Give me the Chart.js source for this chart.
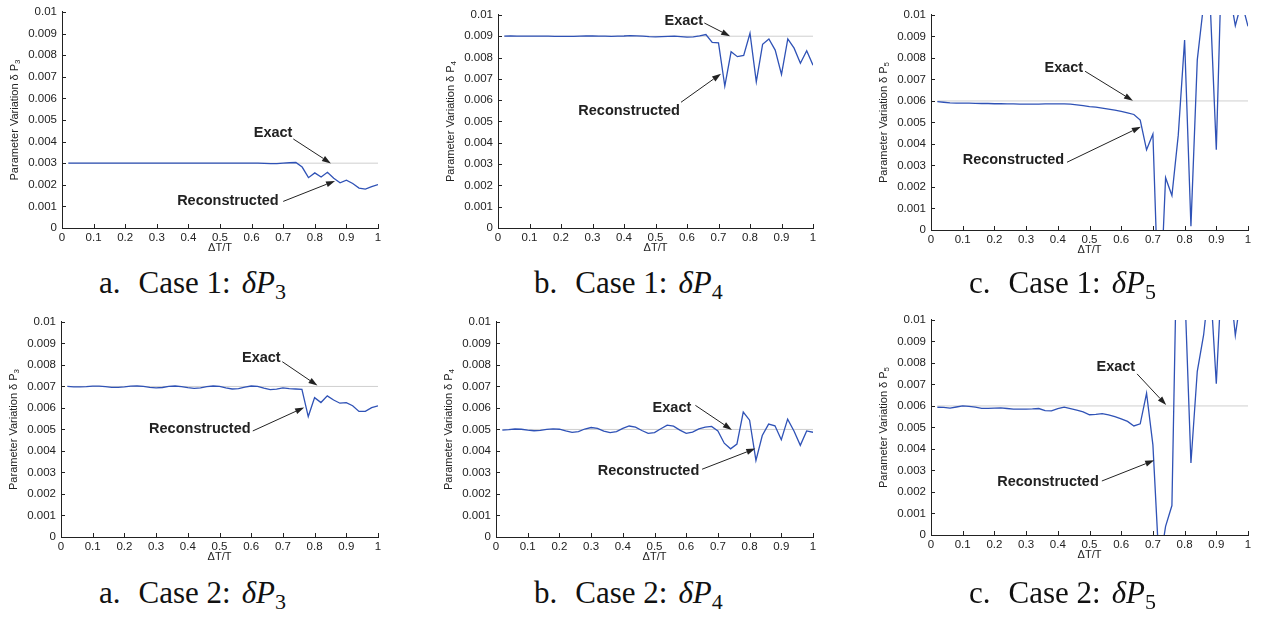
<!DOCTYPE html>
<html>
<head>
<meta charset="utf-8">
<script src="https://cdn.jsdelivr.net/npm/chart.js@4.4.1/dist/chart.umd.min.js"></script>
<style>
  body { margin: 0; background: #fff; width: 1266px; height: 617px; position: relative; overflow: hidden; }
  canvas { position: absolute; }
  .cap { position: absolute; font-family: 'Liberation Serif', 'Times New Roman', serif; font-size: 31px; line-height: 30px; white-space: nowrap; color: #111; }
  .cap i { font-style: italic; }
  .cap sub { font-size: 22px; vertical-align: -6px; line-height: 0; }
</style>
</head>
<body>
<script>
// ΔT/T sample points
const dT = [0.02, 0.04, 0.06, 0.08, 0.10, 0.12, 0.14, 0.16, 0.18, 0.20,
            0.22, 0.24, 0.26, 0.28, 0.30, 0.32, 0.34, 0.36, 0.38, 0.40,
            0.42, 0.44, 0.46, 0.48, 0.50, 0.52, 0.54, 0.56, 0.58, 0.60,
            0.62, 0.64, 0.66, 0.68, 0.70, 0.72, 0.74, 0.76, 0.78, 0.80,
            0.82, 0.84, 0.86, 0.88, 0.90, 0.92, 0.94, 0.96, 0.98, 1.00];
const exactSpan = [0.02, 1];

// reconstructed parameter variations
const case1P3 = [0.00300, 0.00300, 0.00300, 0.00300, 0.00300, 0.00300, 0.00300, 0.00300, 0.00300, 0.00300,
                 0.00300, 0.00300, 0.00300, 0.00300, 0.00300, 0.00300, 0.00300, 0.00300, 0.00300, 0.00300,
                 0.00300, 0.00300, 0.00300, 0.00300, 0.00300, 0.00300, 0.00300, 0.00300, 0.00300, 0.00300,
                 0.00300, 0.00299, 0.00298, 0.00298, 0.00300, 0.00302, 0.00303, 0.00282, 0.00233, 0.00255,
                 0.00236, 0.00258, 0.00230, 0.00209, 0.00221, 0.00206, 0.00185, 0.00180, 0.00191, 0.00201];
const case1P4 = [0.00900, 0.00901, 0.00900, 0.00900, 0.00900, 0.00900, 0.00900, 0.00900, 0.00899, 0.00899,
                 0.00899, 0.00899, 0.00900, 0.00901, 0.00901, 0.00900, 0.00900, 0.00899, 0.00900, 0.00901,
                 0.00903, 0.00902, 0.00900, 0.00898, 0.00897, 0.00898, 0.00899, 0.00900, 0.00898, 0.00896,
                 0.00897, 0.00902, 0.00908, 0.00871, 0.00869, 0.00666, 0.00827, 0.00804, 0.00810, 0.00914,
                 0.00686, 0.00862, 0.00887, 0.00835, 0.00721, 0.00887, 0.00844, 0.00773, 0.00832, 0.00764];
const case1P5 = [0.00597, 0.00594, 0.00591, 0.00590, 0.00590, 0.00590, 0.00589, 0.00588, 0.00588, 0.00587,
                 0.00587, 0.00586, 0.00586, 0.00585, 0.00585, 0.00585, 0.00585, 0.00586, 0.00586, 0.00586,
                 0.00586, 0.00585, 0.00582, 0.00578, 0.00574, 0.00571, 0.00567, 0.00562, 0.00557, 0.00552,
                 0.00545, 0.00537, 0.00511, 0.00373, 0.00446, -0.00450, 0.00243, 0.00160, 0.00441, 0.00883,
                 0.00018, 0.00791, 0.01050, 0.01080, 0.00373, 0.01420, 0.01120, 0.00950, 0.01060, 0.00947];
const case2P3 = [0.00700, 0.00698, 0.00698, 0.00699, 0.00701, 0.00701, 0.00699, 0.00696, 0.00696, 0.00698,
                 0.00701, 0.00702, 0.00700, 0.00696, 0.00693, 0.00695, 0.00700, 0.00702, 0.00699, 0.00694,
                 0.00691, 0.00693, 0.00699, 0.00702, 0.00700, 0.00693, 0.00688, 0.00690, 0.00697, 0.00702,
                 0.00700, 0.00692, 0.00685, 0.00687, 0.00693, 0.00690, 0.00688, 0.00686, 0.00560, 0.00648,
                 0.00625, 0.00656, 0.00637, 0.00622, 0.00625, 0.00610, 0.00584, 0.00584, 0.00601, 0.00610];
const case2P4 = [0.00497, 0.00499, 0.00502, 0.00501, 0.00497, 0.00494, 0.00496, 0.00500, 0.00503, 0.00501,
                 0.00493, 0.00486, 0.00490, 0.00502, 0.00509, 0.00505, 0.00492, 0.00485, 0.00490, 0.00505,
                 0.00516, 0.00511, 0.00495, 0.00482, 0.00485, 0.00503, 0.00520, 0.00515, 0.00497, 0.00482,
                 0.00488, 0.00503, 0.00511, 0.00514, 0.00493, 0.00436, 0.00410, 0.00432, 0.00581, 0.00543,
                 0.00356, 0.00472, 0.00525, 0.00517, 0.00452, 0.00548, 0.00493, 0.00426, 0.00493, 0.00487];
const case2P5 = [0.00594, 0.00593, 0.00590, 0.00595, 0.00600, 0.00598, 0.00594, 0.00589, 0.00589, 0.00590,
                 0.00591, 0.00588, 0.00585, 0.00585, 0.00585, 0.00586, 0.00588, 0.00578, 0.00577, 0.00588,
                 0.00594, 0.00588, 0.00580, 0.00572, 0.00559, 0.00561, 0.00564, 0.00558, 0.00550, 0.00540,
                 0.00528, 0.00507, 0.00517, 0.00659, 0.00419, -0.00150, 0.00040, 0.00137, 0.01710, 0.01166,
                 0.00335, 0.00761, 0.00930, 0.01200, 0.00703, 0.01300, 0.01220, 0.00928, 0.01130, 0.01250];

// exact values
const exactC1 = [0.003, 0.009, 0.006];
const exactC2 = [0.007, 0.005, 0.006];

const BLUE = '#2f52b6';
const SANS = '"Liberation Sans", Arial, Helvetica, sans-serif';

// plot rectangles [left, top, right, bottom] and annotation placement in data units
const panels = [
  { rect: [62, 8, 378, 228], sub: '3', values: case1P3, exact: exactC1[0], letter: 'a', caseNo: 1,
    exactText: [0.668, 0.00441], exactArrow: [0.732, 0.00412, 0.851, 0.00299],
    reconText: [0.525, 0.00123], reconArrow: [0.700, 0.00123, 0.864, 0.00218] },
  { rect: [498, 11, 813, 228], sub: '4', values: case1P4, exact: exactC1[1], letter: 'b', caseNo: 1,
    exactText: [0.590, 0.00972], exactArrow: [0.655, 0.00962, 0.737, 0.00900],
    reconText: [0.416, 0.00548], reconArrow: [0.581, 0.00590, 0.708, 0.00724] },
  { rect: [931, 11, 1248, 230], sub: '5', values: case1P5, exact: exactC1[2], letter: 'c', caseNo: 1,
    exactText: [0.419, 0.00753], exactArrow: [0.486, 0.00738, 0.637, 0.00601],
    reconText: [0.260, 0.00324], reconArrow: [0.429, 0.00315, 0.662, 0.00480] },
  { rect: [61, 318, 378, 537], sub: '3', values: case2P3, exact: exactC2[0], letter: 'a', caseNo: 2,
    exactText: [0.632, 0.00830], exactArrow: [0.698, 0.00815, 0.809, 0.00704],
    reconText: [0.438, 0.00501], reconArrow: [0.605, 0.00493, 0.767, 0.00602] },
  { rect: [496, 318, 813, 537], sub: '4', values: case2P4, exact: exactC2[1], letter: 'b', caseNo: 2,
    exactText: [0.555, 0.00600], exactArrow: [0.629, 0.00612, 0.744, 0.00498],
    reconText: [0.481, 0.00309], reconArrow: [0.650, 0.00315, 0.818, 0.00411] },
  { rect: [931, 316, 1248, 535], sub: '5', values: case2P5, exact: exactC2[2], letter: 'c', caseNo: 2,
    exactText: [0.583, 0.00781], exactArrow: [0.650, 0.00749, 0.742, 0.00604],
    reconText: [0.369, 0.00248], reconArrow: [0.539, 0.00251, 0.704, 0.00347] }
];

const PAD_L = 62, PAD_T = 8, PAD_R = 16, PAD_B = 36;

function arrow(ctx, x1, y1, x2, y2) {
  const a = Math.atan2(y2 - y1, x2 - x1), len = 9, half = 3;
  const bx = x2 - len * Math.cos(a), by = y2 - len * Math.sin(a);
  ctx.beginPath();
  ctx.moveTo(x1, y1);
  ctx.lineTo(bx, by);
  ctx.stroke();
  ctx.beginPath();
  ctx.moveTo(x2, y2);
  ctx.lineTo(bx - half * Math.sin(a), by + half * Math.cos(a));
  ctx.lineTo(bx + half * Math.sin(a), by - half * Math.cos(a));
  ctx.closePath();
  ctx.fill();
}

// inward ticks, axis titles and the Exact / Reconstructed callouts
const axisDecor = {
  id: 'axisDecor',
  afterDraw(chart, args, p) {
    const ctx = chart.ctx;
    const xs = chart.scales.x, ys = chart.scales.y;
    const area = chart.chartArea;
    ctx.save();
    ctx.strokeStyle = '#222';
    ctx.fillStyle = '#222';
    ctx.lineWidth = 1;
    ctx.beginPath();
    xs.ticks.forEach(t => {
      const px = Math.round(xs.getPixelForValue(t.value)) + 0.5;
      ctx.moveTo(px, area.bottom);
      ctx.lineTo(px, area.bottom - 4);
    });
    ys.ticks.forEach(t => {
      const py = Math.round(ys.getPixelForValue(t.value)) + 0.5;
      ctx.moveTo(area.left, py);
      ctx.lineTo(area.left + 4, py);
    });
    ctx.stroke();

    // x title
    ctx.font = '11px ' + SANS;
    ctx.textAlign = 'center';
    ctx.textBaseline = 'middle';
    ctx.fillText('\u0394T/T', (area.left + area.right) / 2, area.bottom + 20);

    // y title with subscript
    ctx.save();
    ctx.translate(area.left - 47, (area.top + area.bottom) / 2);
    ctx.rotate(-Math.PI / 2);
    const main = 'Parameter Variation \u03b4 P';
    ctx.font = '11px ' + SANS;
    const w1 = ctx.measureText(main).width;
    ctx.font = '8px ' + SANS;
    const w2 = ctx.measureText(p.sub).width;
    const x0 = -(w1 + w2) / 2;
    ctx.textAlign = 'left';
    ctx.font = '11px ' + SANS;
    ctx.fillText(main, x0, 0);
    ctx.font = '8px ' + SANS;
    ctx.fillText(p.sub, x0 + w1, 3);
    ctx.restore();

    // callouts
    ctx.font = 'bold 14.5px ' + SANS;
    ctx.textAlign = 'center';
    ctx.textBaseline = 'middle';
    ctx.fillText('Exact', xs.getPixelForValue(p.exactText[0]), ys.getPixelForValue(p.exactText[1]));
    ctx.fillText('Reconstructed', xs.getPixelForValue(p.reconText[0]), ys.getPixelForValue(p.reconText[1]));
    [p.exactArrow, p.reconArrow].forEach(a => {
      arrow(ctx, xs.getPixelForValue(a[0]), ys.getPixelForValue(a[1]),
                 xs.getPixelForValue(a[2]), ys.getPixelForValue(a[3]));
    });
    ctx.restore();
  }
};

panels.forEach(p => {
  const [L, T, R, B] = p.rect;
  const canvas = document.createElement('canvas');
  canvas.width = (R - L) + PAD_L + PAD_R;
  canvas.height = (B - T) + PAD_T + PAD_B;
  canvas.style.left = (L - PAD_L) + 'px';
  canvas.style.top = (T - PAD_T) + 'px';
  document.body.appendChild(canvas);

  const tickFont = { family: SANS, size: 11.5 };

  new Chart(canvas, {
    type: 'line',
    data: {
      datasets: [{
        label: 'Reconstructed',
        data: dT.map((x, i) => ({ x: x, y: p.values[i] })),
        borderColor: BLUE,
        borderWidth: 1.3,
        pointRadius: 0,
        tension: 0
      }, {
        label: 'Exact',
        data: exactSpan.map(x => ({ x: x, y: p.exact })),
        borderColor: '#cfcfcf',
        borderWidth: 1,
        pointRadius: 0
      }]
    },
    options: {
      responsive: false,
      animation: false,
      events: [],
      layout: { padding: { top: PAD_T, right: PAD_R, left: 0, bottom: 0 } },
      plugins: {
        legend: { display: false },
        tooltip: { enabled: false },
        axisDecor: p
      },
      scales: {
        x: {
          type: 'linear', min: 0, max: 1,
          afterFit: s => { s.height = PAD_B; },
          grid: { display: false, drawTicks: false },
          border: { display: true, color: '#222', width: 1 },
          ticks: {
            stepSize: 0.1, padding: 3, autoSkip: false, maxRotation: 0,
            font: tickFont, color: '#222',
            callback: v => String(+v.toFixed(1))
          }
        },
        y: {
          type: 'linear', min: 0, max: 0.01,
          afterFit: s => { s.width = PAD_L; },
          grid: { display: false, drawTicks: false },
          border: { display: true, color: '#222', width: 1 },
          ticks: {
            stepSize: 0.001, padding: 5, autoSkip: false,
            font: tickFont, color: '#222',
            callback: v => String(+v.toFixed(3))
          }
        }
      }
    },
    plugins: [axisDecor]
  });

  // caption below the plot
  const cap = document.createElement('div');
  cap.className = 'cap';
  const capLeft = { a: 99, b: 534, c: 969 }[p.letter];
  cap.style.left = capLeft + 'px';
  cap.style.top = (p.caseNo === 1 ? 268 : 578) + 'px';
  cap.innerHTML = p.letter + '.<span style="margin-left:18px">Case ' + p.caseNo + ':</span>' +
    '<i style="margin-left:11px">\u03b4P</i><sub>' + p.sub + '</sub>';
  document.body.appendChild(cap);
});
</script>
</body>
</html>
